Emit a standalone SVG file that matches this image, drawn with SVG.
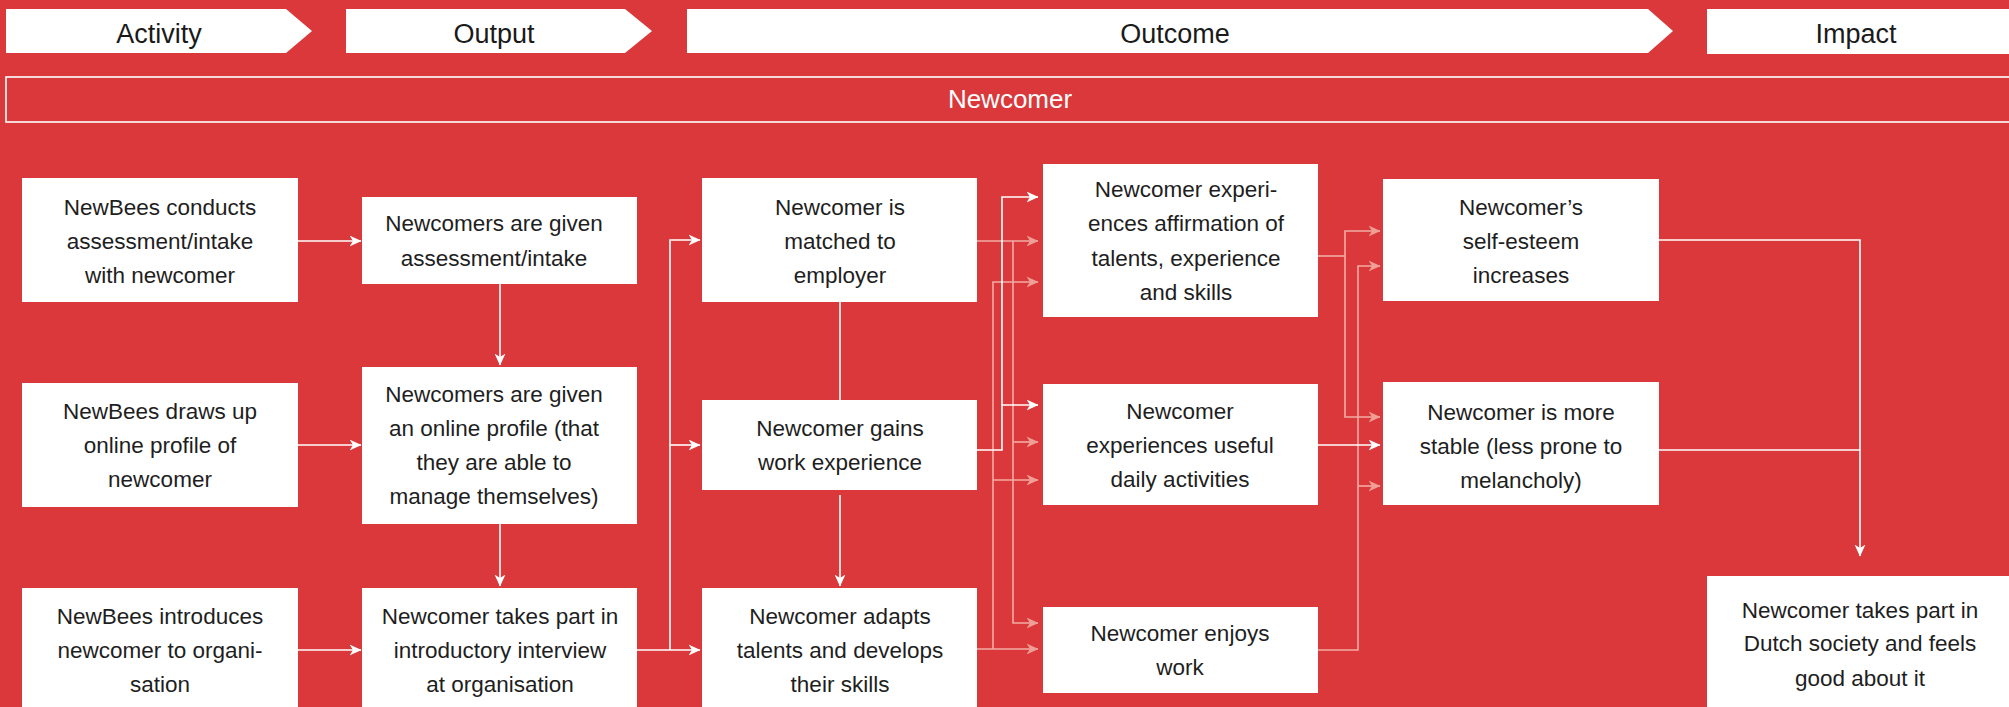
<svg xmlns="http://www.w3.org/2000/svg" width="2009" height="707" viewBox="0 0 2009 707">
<style>
.bg{fill:#DA383A}
.box{fill:#ffffff}
.t{font-family:"Liberation Sans",Arial,sans-serif;font-size:22.5px;fill:#1e1e1e;text-anchor:middle}
.h{font-family:"Liberation Sans",Arial,sans-serif;font-size:27px;fill:#1a1a1a;text-anchor:middle}
.w{fill:none;stroke:#ffffff;stroke-width:1.6}
.p{fill:none;stroke:#F2ACA4;stroke-width:1.6}
.wa{marker-end:url(#aw)}
.pa{marker-end:url(#ap)}
</style>
<defs>
<marker id="aw" viewBox="0 0 12 12" refX="11.5" refY="6" markerWidth="12" markerHeight="12" markerUnits="userSpaceOnUse" orient="auto">
<path d="M0,0.5 L12,6 L0,11.5 L3.5,6 z" fill="#ffffff"/>
</marker>
<marker id="ap" viewBox="0 0 12 12" refX="11.5" refY="6" markerWidth="12" markerHeight="12" markerUnits="userSpaceOnUse" orient="auto">
<path d="M0,0.5 L12,6 L0,11.5 L3.5,6 z" fill="#EF9F95"/>
</marker>
</defs>
<rect class="bg" x="0" y="0" width="2009" height="707"/>

<g id="headers">
<g id="h-activity"><polygon class="box" points="6,9 286,9 312,31 286,53 6,53"/><text class="h" x="159" y="43">Activity</text></g>
<g id="h-output"><polygon class="box" points="346,9 625,9 652,31 625,53 346,53"/><text class="h" x="494" y="43">Output</text></g>
<g id="h-outcome"><polygon class="box" points="687,9 1648,9 1673,31 1648,53 687,53"/><text class="h" x="1175" y="43">Outcome</text></g>
<g id="h-impact"><rect class="box" x="1707" y="9" width="310" height="45"/><text class="h" x="1856" y="43">Impact</text></g>
</g>

<g id="band">
<rect x="6" y="77" width="2020" height="45" fill="none" stroke="#ffffff" stroke-width="1.6"/>
<text x="1010" y="108" font-family="'Liberation Sans',Arial,sans-serif" font-size="26" fill="#ffffff" text-anchor="middle">Newcomer</text>
</g>

<g id="connectors">
<path class="w wa" d="M298,241 H361"/>
<path class="w wa" d="M298,445 H361"/>
<path class="w wa" d="M298,650 H361"/>
<path class="w wa" d="M500,284 V365"/>
<path class="w wa" d="M500,524 V586"/>
<path class="w wa" d="M637,650 H700"/>
<path class="w wa" d="M670,650 V240 H700"/>
<path class="w wa" d="M670,445 H700"/>
<path class="w" d="M840,302 V400"/>
<path class="w wa" d="M840,495 V586"/>
<path class="p pa" d="M977,241 H1038"/>
<path class="p pa" d="M1013,241 V623 H1038"/>
<path class="p pa" d="M1013,442 H1038"/>
<path class="p pa" d="M977,649 H1038"/>
<path class="p pa" d="M993,649 V282 H1038"/>
<path class="p pa" d="M993,480 H1038"/>
<path class="w wa" d="M977,450 H1002 V197 H1038"/>
<path class="w wa" d="M1002,405 H1038"/>
<path class="p" d="M1318,256 H1345"/>
<path class="p pa" d="M1345,256 V231 H1380"/>
<path class="p pa" d="M1345,256 V417 H1380"/>
<path class="p pa" d="M1318,650 H1358 V266 H1380"/>
<path class="p pa" d="M1358,486 H1380"/>
<path class="w wa" d="M1318,445 H1380"/>
<path class="w wa" d="M1659,240 H1860 V556"/>
<path class="w" d="M1659,450 H1860"/>
</g>

<g id="a1"><rect class="box" x="22" y="178" width="276" height="124"/>
<text class="t" x="160" y="215">NewBees conducts</text><text class="t" x="160" y="249">assessment/intake</text><text class="t" x="160" y="283">with newcomer</text></g>
<g id="a2"><rect class="box" x="22" y="383" width="276" height="124"/>
<text class="t" x="160" y="419">NewBees draws up</text><text class="t" x="160" y="453">online profile of</text><text class="t" x="160" y="487">newcomer</text></g>
<g id="a3"><rect class="box" x="22" y="588" width="276" height="140"/>
<text class="t" x="160" y="624">NewBees introduces</text><text class="t" x="160" y="658">newcomer to organi-</text><text class="t" x="160" y="692">sation</text></g>

<g id="b1"><rect class="box" x="362" y="197" width="275" height="87"/>
<text class="t" x="494" y="231">Newcomers are given</text><text class="t" x="494" y="266">assessment/intake</text></g>
<g id="b2"><rect class="box" x="362" y="367" width="275" height="157"/>
<text class="t" x="494" y="402">Newcomers are given</text><text class="t" x="494" y="436">an online profile (that</text><text class="t" x="494" y="470">they are able to</text><text class="t" x="494" y="504">manage themselves)</text></g>
<g id="b3"><rect class="box" x="362" y="588" width="275" height="140"/>
<text class="t" x="500" y="624">Newcomer takes part in</text><text class="t" x="500" y="658">introductory interview</text><text class="t" x="500" y="692">at organisation</text></g>

<g id="c1"><rect class="box" x="702" y="178" width="275" height="124"/>
<text class="t" x="840" y="215">Newcomer is</text><text class="t" x="840" y="249">matched to</text><text class="t" x="840" y="283">employer</text></g>
<g id="c2"><rect class="box" x="702" y="400" width="275" height="90"/>
<text class="t" x="840" y="436">Newcomer gains</text><text class="t" x="840" y="470">work experience</text></g>
<g id="c3"><rect class="box" x="702" y="588" width="275" height="140"/>
<text class="t" x="840" y="624">Newcomer adapts</text><text class="t" x="840" y="658">talents and develops</text><text class="t" x="840" y="692">their skills</text></g>

<g id="d1"><rect class="box" x="1043" y="164" width="275" height="153"/>
<text class="t" x="1186" y="197">Newcomer experi-</text><text class="t" x="1186" y="231">ences affirmation of</text><text class="t" x="1186" y="266">talents, experience</text><text class="t" x="1186" y="300">and skills</text></g>
<g id="d2"><rect class="box" x="1043" y="384" width="275" height="121"/>
<text class="t" x="1180" y="419">Newcomer</text><text class="t" x="1180" y="453">experiences useful</text><text class="t" x="1180" y="487">daily activities</text></g>
<g id="d3"><rect class="box" x="1043" y="607" width="275" height="86"/>
<text class="t" x="1180" y="641">Newcomer enjoys</text><text class="t" x="1180" y="675">work</text></g>

<g id="e1"><rect class="box" x="1383" y="179" width="276" height="122"/>
<text class="t" x="1521" y="215">Newcomer’s</text><text class="t" x="1521" y="249">self-esteem</text><text class="t" x="1521" y="283">increases</text></g>
<g id="e2"><rect class="box" x="1383" y="382" width="276" height="123"/>
<text class="t" x="1521" y="420">Newcomer is more</text><text class="t" x="1521" y="454">stable (less prone to</text><text class="t" x="1521" y="488">melancholy)</text></g>

<g id="f1"><rect class="box" x="1707" y="576" width="310" height="150"/>
<text class="t" x="1860" y="618">Newcomer takes part in</text><text class="t" x="1860" y="651">Dutch society and feels</text><text class="t" x="1860" y="686">good about it</text></g>
</svg>
